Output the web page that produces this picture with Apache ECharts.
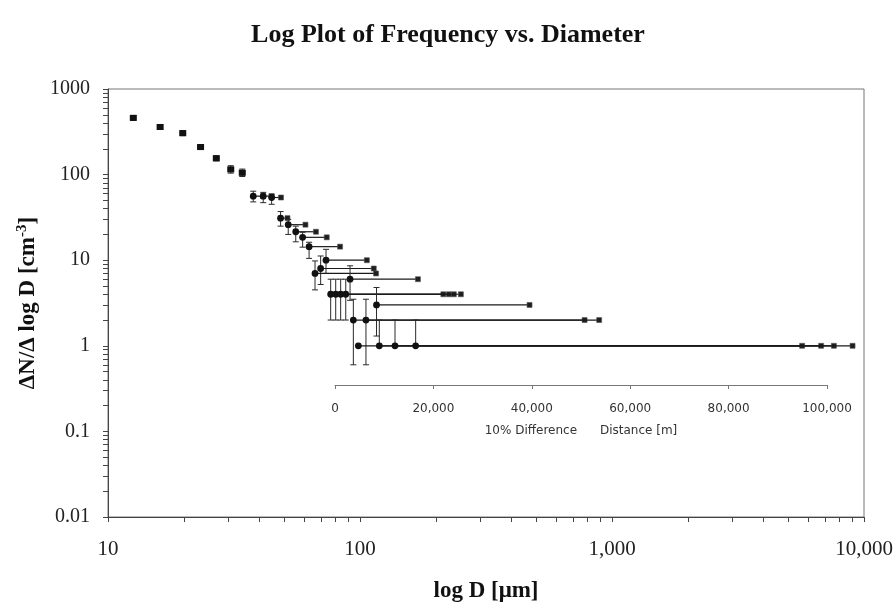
<!DOCTYPE html>
<html><head><meta charset="utf-8">
<script src="https://cdn.jsdelivr.net/npm/echarts@6/dist/echarts.min.js"></script>
<style>html,body{margin:0;padding:0;background:#fff}#c{width:896px;height:605px}</style>
</head><body><div id="c"></div>
<script>
// ---- data ----
const diameterUm = [12.6, 16.1, 19.8, 23.3, 26.9, 30.7, 34.1, 37.7, 41.3, 44.6, 48.4, 51.9, 55.6, 59.2, 62.8, 73.3, 69.8, 66.3, 91.3, 76.5, 80.1, 83.8, 87.8, 116.3, 94.1, 105.6, 98.5, 119.3, 137.7, 166.3];
const frequency = [460, 360, 305, 210, 155, 115, 105, 56, 56, 54, 31, 26, 21.5, 18.5, 14.4, 10, 8, 7, 6, 4, 4, 4, 4, 3, 2, 2, 1, 1, 1, 1];
const errLow  = [430, 337, 285, 196, 145, 104, 95, 48, 47, 45, 25, 20, 16.4, 14.2, 10.5, 7, 5.2, 4.5, 3.4, 2, 2, 2, 2, 1.3, 0.6, 0.6, null, null, null, null];
const errHigh = [490, 385, 325, 224, 166, 127, 116, 64, 62, 59, 37, 30, 25, 21.2, 16.2, 13.4, 11.2, 9.8, 8.6, 6, 6, 6, 6, 4.8, 3.5, 3.5, null, 2, 2, 2];
const diffDistanceM = [0, 0, 0, 0, 0, 0, 0, 2000, 1700, 1900, 1400, 3500, 4100, 4900, 6300, 8300, 10800, 12400, 13800, 22900, 23000, 23000, 23400, 31100, 47000, 47400, 90200, 89800, 89200, 88800];

const xTickValues = [10, 100, 1000, 10000];
const xTickLabels = ['10', '100', '1,000', '10,000'];
const yTickValues = [0.01, 0.1, 1, 10, 100, 1000];
const yTickLabels = ['0.01', '0.1', '1', '10', '100', '1000'];
const distTickValues = [0, 20000, 40000, 60000, 80000, 100000];
const distTickLabels = ['0', '20,000', '40,000', '60,000', '80,000', '100,000'];

function logMinorTicks(lo, hi) {
  const out = [];
  for (let e = lo; e < hi; e++) for (let m = 1; m < 10; m++) out.push(+(m * Math.pow(10, e)).toPrecision(3));
  out.push(Math.pow(10, hi));
  return out;
}

const chart = echarts.init(document.getElementById('c'), null, {renderer: 'canvas'});
const seriesData = diameterUm.map((d, i) => [d, frequency[i],
  errLow[i] == null ? NaN : errLow[i], errHigh[i] == null ? NaN : errHigh[i], diffDistanceM[i]]);

const serif = 'Liberation Serif, Times New Roman, serif';
const ink = '#111';

function renderItem(params, api) {
  const D = api.value(0), v = api.value(1), lo = api.value(2), hi = api.value(3), dist = api.value(4);
  const p = api.coord([D, v]);
  const children = [];
  const es = {stroke: '#2a2a2a', lineWidth: 1};
  const cap = 3;
  // horizontal 10% difference distance line, length via inset distance axis
  const x0 = chart.convertToPixel({xAxisIndex: 1}, 0);
  const x1 = chart.convertToPixel({xAxisIndex: 1}, dist);
  const len = (x0 != null && x1 != null) ? (x1 - x0) : 0;
  if (len > 0) {
    children.push({type: 'line', shape: {x1: p[0], y1: p[1], x2: p[0] + len, y2: p[1]}, style: {stroke: '#1a1a1a', lineWidth: 1.2}});
  }
  children.push({type: 'rect', shape: {x: p[0] + len - 2.5, y: p[1] - 2.5, width: 5, height: 5}, style: {fill: '#1e1e1e', stroke: '#555', lineWidth: 0.6}});
  if (isFinite(hi)) {
    const ph = api.coord([D, hi]);
    children.push({type: 'line', shape: {x1: p[0], y1: p[1], x2: p[0], y2: ph[1]}, style: es});
    children.push({type: 'line', shape: {x1: p[0] - cap, y1: ph[1], x2: p[0] + cap, y2: ph[1]}, style: es});
  }
  if (isFinite(lo)) {
    const pl = api.coord([D, lo]);
    children.push({type: 'line', shape: {x1: p[0], y1: p[1], x2: p[0], y2: pl[1]}, style: es});
    children.push({type: 'line', shape: {x1: p[0] - cap, y1: pl[1], x2: p[0] + cap, y2: pl[1]}, style: es});
  }
  if (dist > 0) {
    children.push({type: 'circle', shape: {cx: p[0], cy: p[1], r: 3.4}, style: {fill: ink}});
  } else {
    children.push({type: 'rect', shape: {x: p[0] - 3.5, y: p[1] - 3, width: 7, height: 6}, style: {fill: ink}});
  }
  return {type: 'group', children};
}

const option = {
  backgroundColor: '#ffffff',
  animation: false,
  title: {
    text: 'Log Plot of Frequency vs. Diameter',
    left: 'center', top: 17,
    textStyle: {fontFamily: serif, fontWeight: 'bold', fontSize: 26, color: ink}
  },
  grid: [
    {left: 108, right: 32, top: 89, bottom: 88, show: true, borderColor: '#777', borderWidth: 1, backgroundColor: 'transparent', outerBoundsMode: 'none', containLabel: false},
    {left: 335, right: 69, top: 89, bottom: 88, show: false, outerBoundsMode: 'none', containLabel: false}
  ],
  xAxis: [
    {
      gridIndex: 0, type: 'log', logBase: 10, min: 10, max: 10000,
      name: 'log D [\u03bcm]', nameLocation: 'middle', nameGap: 63,
      nameTextStyle: {fontFamily: serif, fontWeight: 'bold', fontSize: 23, color: ink},
      axisLine: {show: true, lineStyle: {color: '#444', width: 1}},
      axisTick: {show: true, inside: false, length: 5, lineStyle: {color: '#444'}, customValues: logMinorTicks(1, 4)},
      axisLabel: {customValues: xTickValues, margin: 22, fontFamily: serif, fontSize: 21, color: '#222',
        formatter: v => xTickLabels[xTickValues.findIndex(t => Math.abs(t - v) / t < 1e-6)]},
      splitLine: {show: false}, minorTick: {show: false}
    },
    {
      gridIndex: 1, type: 'value', min: 0, max: 100000, interval: 20000, position: 'bottom', offset: -132,
      name: '10% Difference      Distance [m]', nameLocation: 'middle', nameGap: 40,
      nameTextStyle: {fontFamily: 'DejaVu Sans, sans-serif', fontSize: 12, color: '#333'},
      axisLine: {show: true, onZero: false, lineStyle: {color: '#777', width: 1}},
      axisTick: {show: true, inside: false, length: 4, lineStyle: {color: '#777'}},
      axisLabel: {margin: 18, fontFamily: 'DejaVu Sans, sans-serif', fontSize: 12, color: '#333',
        formatter: v => distTickLabels[distTickValues.indexOf(v)]},
      splitLine: {show: false}
    }
  ],
  yAxis: [
    {
      gridIndex: 0, type: 'log', logBase: 10, min: 0.01, max: 1000,
      name: '{a|\u0394N/\u0394 log D [cm}{s|-3}{a|]}', nameLocation: 'middle', nameGap: 64, nameRotate: 90,
      nameTextStyle: {
        rich: {
          a: {fontFamily: serif, fontWeight: 'bold', fontSize: 23, color: ink, lineHeight: 26},
          s: {fontFamily: serif, fontWeight: 'bold', fontSize: 15, color: ink, lineHeight: 15, verticalAlign: 'top'}
        }
      },
      axisLine: {show: true, lineStyle: {color: '#444', width: 1}},
      axisTick: {show: true, inside: false, length: 5, lineStyle: {color: '#444'}, customValues: logMinorTicks(-2, 3)},
      axisLabel: {customValues: yTickValues, margin: 18, fontFamily: serif, fontSize: 20, color: '#222',
        formatter: v => yTickLabels[yTickValues.findIndex(t => Math.abs(t - v) / t < 1e-6)]},
      splitLine: {show: false}, minorTick: {show: false}
    },
    {gridIndex: 1, type: 'log', logBase: 10, min: 0.01, max: 1000, show: false}
  ],
  series: [
    {
      type: 'custom', name: 'Frequency', xAxisIndex: 0, yAxisIndex: 0,
      renderItem: renderItem, data: seriesData, encode: {x: 0, y: 1}, clip: false, silent: true
    }
  ]
};
chart.setOption(option);
</script></body></html>
